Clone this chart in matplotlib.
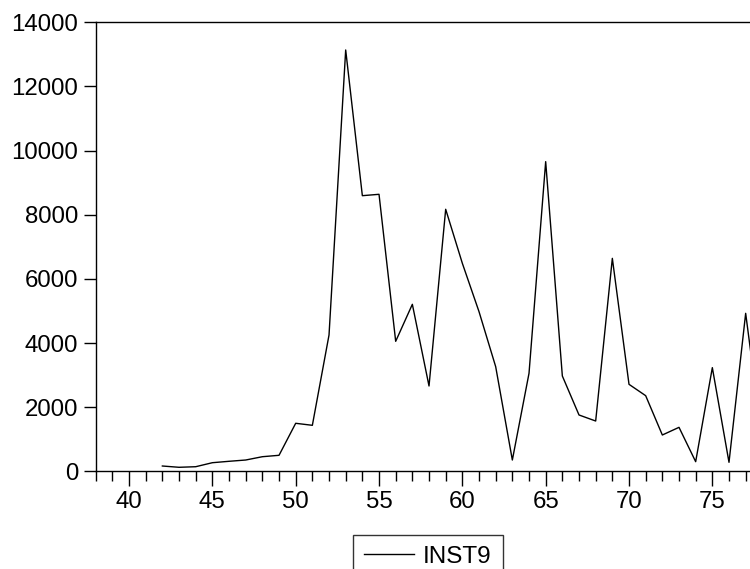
import matplotlib
matplotlib.use("Agg")
import matplotlib.pyplot as plt
from matplotlib.ticker import MultipleLocator

plt.rcParams['font.family'] = ['Liberation Sans', 'DejaVu Sans']

# %% DATA
years = list(range(42, 79))
inst9 = [165, 125, 143, 268, 312, 352, 455, 499, 1497, 1434,
         4250, 13137, 8594, 8637, 4053, 5207, 2660, 8170, 6485, 4978,
         3263, 352, 3055, 9655, 2972, 1756, 1568, 6640, 2712, 2358,
         1132, 1371, 300, 3232, 280, 4926, 950]
y_ticks = [0, 2000, 4000, 6000, 8000, 10000, 12000, 14000]
x_ticks = [40, 45, 50, 55, 60, 65, 70, 75]

# %% PLOT
fig = plt.figure(figsize=(7.5, 5.69), dpi=100)
ax = fig.add_axes([0.1276, 0.1717, 0.8724, 0.7891])

ax.plot(years, inst9, color='black', linewidth=1.0, label='INST9')

ax.set_xlim(38, 77.26)
ax.set_ylim(0, 14000)
ax.set_yticks(y_ticks)
ax.set_xticks(x_ticks)
ax.xaxis.set_minor_locator(MultipleLocator(1))

ax.spines['right'].set_visible(False)
for s in ['left', 'top', 'bottom']:
    ax.spines[s].set_linewidth(1.0)

ax.tick_params(axis='y', which='major', direction='out', length=9, width=1.0,
               labelsize=17.3, pad=3.5)
ax.tick_params(axis='x', which='major', direction='out', length=11, width=1.0,
               labelsize=17.3, pad=3)
ax.tick_params(axis='x', which='minor', direction='out', length=7, width=1.0)

leg = fig.legend(loc='upper left', bbox_to_anchor=(353 / 750, 1 - 535 / 569),
                 fontsize=17.5, frameon=True, fancybox=False, edgecolor='black',
                 handlelength=2.05, handletextpad=0.38, borderpad=0.45,
                 borderaxespad=0)
leg.get_frame().set_linewidth(1.0)

fig.savefig('out.png', dpi=100)
